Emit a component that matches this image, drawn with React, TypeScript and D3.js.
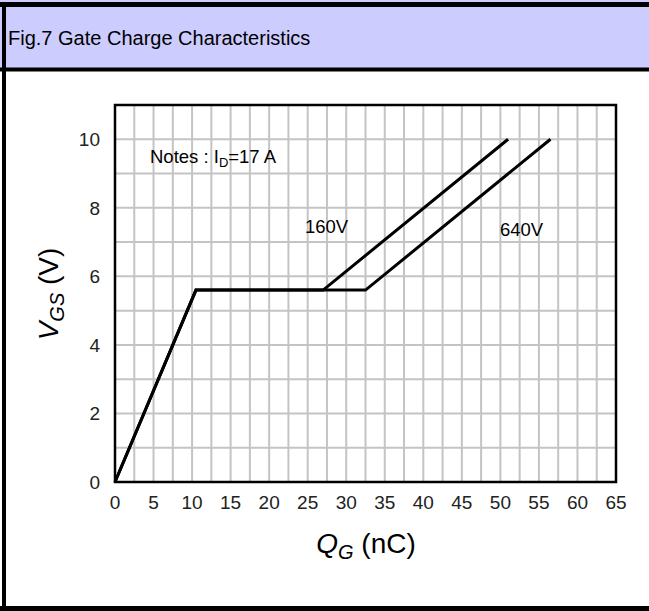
import React from 'react';
import * as d3 from 'd3';

// Gate charge curves (Q_G in nC, V_GS in V)
const q160 = [0, 10.5, 27, 51];
const v160 = [0, 5.6, 5.6, 10];
const q640 = [0, 10.5, 32.5, 56.5];
const v640 = [0, 5.6, 5.6, 10];

const xTicks = [0, 5, 10, 15, 20, 25, 30, 35, 40, 45, 50, 55, 60, 65];
const yTicks = [0, 2, 4, 6, 8, 10];

const W = 649;
const H = 611;
const FONT = 'Arial, "Liberation Sans", Helvetica, sans-serif';

const App: React.FC = () => {
  const margin = { left: 115, right: 33, top: 105, bottom: 129 };
  const x = d3.scaleLinear().domain([0, 65]).range([margin.left, W - margin.right]);
  const y = d3.scaleLinear().domain([0, 11]).range([H - margin.bottom, margin.top]);

  // Minor grid: 2.5 nC and 1 V
  const xGrid = d3.range(2.5, 65, 2.5);
  const yGrid = d3.range(1, 11, 1);

  const line = d3
    .line<[number, number]>()
    .x((d) => x(d[0]))
    .y((d) => y(d[1]));

  const series = [
    { q: q160, v: v160 },
    { q: q640, v: v640 },
  ];

  return (
    <svg
      width={W}
      height={H}
      style={{ position: 'absolute', left: 0, top: 0, background: '#fff' }}
      fontFamily={FONT}
    >
      {/* header band */}
      <rect x={0} y={0} width={W} height={70} fill="#ccccff" />
      <line x1={0} x2={W} y1={4.5} y2={4.5} stroke="#000" strokeWidth={5} />
      <line x1={0} x2={W} y1={69.5} y2={69.5} stroke="#000" strokeWidth={4} />
      <line x1={4} x2={4} y1={2} y2={H} stroke="#000" strokeWidth={4} />
      <line x1={0} x2={W} y1={608.5} y2={608.5} stroke="#000" strokeWidth={5} />
      <text x={8} y={45} fontSize={20} fill="#000">
        Fig.7 Gate Charge Characteristics
      </text>

      {/* grid */}
      {xGrid.map((g) => (
        <line
          key={'gx' + g}
          x1={x(g)}
          x2={x(g)}
          y1={y(11)}
          y2={y(0)}
          stroke="#c4c4c4"
          strokeWidth={2}
        />
      ))}
      {yGrid.map((g) => (
        <line
          key={'gy' + g}
          x1={x(0)}
          x2={x(65)}
          y1={y(g)}
          y2={y(g)}
          stroke="#c4c4c4"
          strokeWidth={2}
        />
      ))}
      <rect
        x={x(0)}
        y={y(11)}
        width={x(65) - x(0)}
        height={y(0) - y(11)}
        fill="none"
        stroke="#000"
        strokeWidth={2.5}
      />

      {/* tick labels */}
      {xTicks.map((t) => (
        <text key={'xt' + t} x={x(t)} y={y(0) + 27} fontSize={19} textAnchor="middle" fill="#222">
          {t}
        </text>
      ))}
      {yTicks.map((t) => (
        <text key={'yt' + t} x={x(0) - 15} y={y(t) + 7} fontSize={19} textAnchor="end" fill="#222">
          {t}
        </text>
      ))}

      {/* curves */}
      {series.map((s, i) => (
        <path
          key={'s' + i}
          d={line(s.q.map((q, j) => [q, s.v[j]] as [number, number])) || ''}
          fill="none"
          stroke="#000"
          strokeWidth={3}
          strokeLinejoin="miter"
        />
      ))}

      {/* annotations */}
      <text x={150} y={163} fontSize={18.5} fill="#000">
        Notes : I<tspan fontSize={13} dy={4}>D</tspan>
        <tspan dy={-4}>=17 A</tspan>
      </text>
      <text x={305} y={233} fontSize={18.5} fill="#000">
        160V
      </text>
      <text x={500} y={236} fontSize={18.5} fill="#000">
        640V
      </text>

      {/* axis titles */}
      <text x={366} y={553} fontSize={28} textAnchor="middle" fill="#000">
        <tspan fontStyle="italic">Q</tspan>
        <tspan fontStyle="italic" fontSize={20} dy={6}>G</tspan>
        <tspan dy={-6}> (nC)</tspan>
      </text>
      <text
        transform="translate(58,294) rotate(-90)"
        fontSize={28}
        textAnchor="middle"
        fill="#000"
      >
        <tspan fontStyle="italic">V</tspan>
        <tspan fontStyle="italic" fontSize={20} dy={6}>GS</tspan>
        <tspan dy={-6}> (V)</tspan>
      </text>
    </svg>
  );
};

export default App;
